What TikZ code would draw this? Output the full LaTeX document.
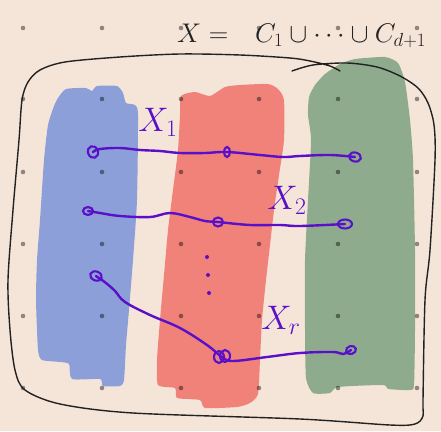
\RequirePackage{fix-cm}
\documentclass[tikz,border=0pt]{standalone}
\usetikzlibrary{calc}
\definecolor{bg}{HTML}{F5E5D9}
\definecolor{cblue}{HTML}{8D9FD8}
\definecolor{cred}{HTML}{F0827A}
\definecolor{cgreen}{HTML}{8FAB8D}
\definecolor{purp}{HTML}{5A10C8}
\definecolor{ink}{HTML}{222222}
\begin{document}
\begin{tikzpicture}[x=1pt,y=-1pt,
  gdot/.style={fill=black,opacity=0.42},
  pline/.style={draw=purp,line width=2.4pt,line cap=round,line join=round},
  ploop/.style={draw=purp,line width=2.1pt},
  lbl/.style={text=purp,font=\fontsize{34}{40}\selectfont,inner sep=0pt},
  ttl/.style={text=ink,font=\fontsize{27}{32}\selectfont,inner sep=0pt},
  outline/.style={draw=ink,line width=1.4pt,line cap=round}]
\useasboundingbox (0,0) rectangle (441,431);
\fill[bg] (0,0) rectangle (441,431);
% strips
\fill[cblue] plot[smooth cycle,tension=0.35] coordinates {
 (58,98) (66,89) (86,88) (92,91) (97,86) (117,86) (123,93) (126,103) (135,105) (138,115)
 (137,200) (133,260) (129,310) (126,345) (124,380) (120,386) (103,386) (100,379) (72,379)
 (69,364) (60,362) (42,360) (38,350) (36,300) (37,260) (40,220) (44,160) (48,125) (54,106)};
\fill[cred] plot[smooth cycle,tension=0.35] coordinates {
 (181,96) (195,92) (210,96) (225,87) (240,85) (268,84) (278,89) (284,100) (284,140)
 (279,175) (274,210) (270,245) (266,280) (262,320) (260,360) (258,394) (250,403) (237,407)
 (205,408) (200,400) (177,398) (175,388) (158,385) (157,360) (160,320) (164,275) (168,230)
 (173,190) (178,150) (180,115)};
\fill[cgreen] plot[smooth cycle,tension=0.35] coordinates {
 (315,85) (325,74) (340,64) (355,59) (385,57) (398,63) (405,82) (410,120) (413,160)
 (415,250) (415,330) (414,385) (410,390) (388,389) (383,385) (338,387) (330,393) (313,393)
 (306,378) (305,330) (305,260) (308,200) (311,140) (308,115) (309,97)};
% grid dots
\foreach \x in {23,102,181,259,338,417}
  \foreach \y in {28,99,172,244,316,388}
    \fill[gdot] (\x,\y) circle (2.3pt);
% outline
\draw[outline] plot[smooth,tension=0.5] coordinates {
 (340,71) (330,66) (310,61) (290,58) (240,55) (180,54) (120,57) (65,62) (40,70) (28,82)
 (22,100) (19,140) (13,210) (8,280) (10,330) (15,370) (25,390) (60,404) (133,413) (300,419)
 (390,425) (415,424) (423,416) (423,400) (425,300) (430,250) (435,160) (434,125) (428,103)
 (418,88) (400,76) (377,67) (347,63) (313,65) (292,71)};
% purple points
\coordinate (a1) at (93,152);
\coordinate (b1) at (227,152);
\coordinate (c1) at (355,157);
\coordinate (a2) at (88,211);
\coordinate (b2) at (218,222);
\coordinate (c2) at (345,224);
\coordinate (a3) at (96,276);
\coordinate (b3) at (222,357);
\coordinate (c3) at (351,350);
\draw[ploop] (a1) circle [x radius=5pt,y radius=6pt,rotate=20];
\draw[ploop] (b1) circle [x radius=3pt,y radius=5pt];
\draw[ploop] (c1) circle [x radius=6pt,y radius=4.5pt,rotate=-15];
\draw[ploop] (a2) circle [x radius=5pt,y radius=4pt];
\draw[ploop] (b2) circle [x radius=5pt,y radius=4.5pt];
\draw[ploop] (c2) circle [x radius=7pt,y radius=4.5pt];
\draw[ploop] (a3) circle [x radius=6pt,y radius=4.5pt,rotate=-20];
\draw[ploop] ($(b3)+(-3,0)$) circle [x radius=5pt,y radius=6pt];
\draw[ploop] ($(b3)+(3,-1)$) circle [x radius=5pt,y radius=6pt];
\draw[ploop] (c3) circle [x radius=5pt,y radius=4pt,rotate=15];
% curves
\draw[pline] plot[smooth,tension=0.6] coordinates {
 (a1) (100,149) (120,148) (140,150) (160,151) (180,153) (205,153) (b1) (260,155) (283,157)
 (300,156) (330,155) (c1)};
\draw[pline] plot[smooth,tension=0.6] coordinates {
 (a2) (100,213) (120,216) (150,217) (170,213) (190,217) (205,221) (b2) (250,225) (280,225)
 (300,226) (c2)};
\draw[pline] plot[smooth,tension=0.6] coordinates {
 (a3) (106,283) (115,291) (125,302) (150,315) (180,328) (207,345) (b3) (233,361)
 (267,357) (300,353) (333,352) (343,354) (c3)};
% vertical dots
\fill[purp] (207,257) circle (2pt);
\fill[purp] (208,275) circle (2pt);
\fill[purp] (209,293) circle (2pt);
% labels
\node[lbl] (l1) at (158,122) {$X_1$};
\node[lbl] (l2) at (287,200) {$X_2$};
\node[lbl] (l3) at (281,320) {$X_r$};
\node[ttl,anchor=west] (t1) at (177,33) {$X =$};
\node[ttl,anchor=base west] (t2) at ($(t1.base west)+(78,0)$) {$C_1 \cup \cdots \cup C_{d+1}$};
\end{tikzpicture}
\end{document}
